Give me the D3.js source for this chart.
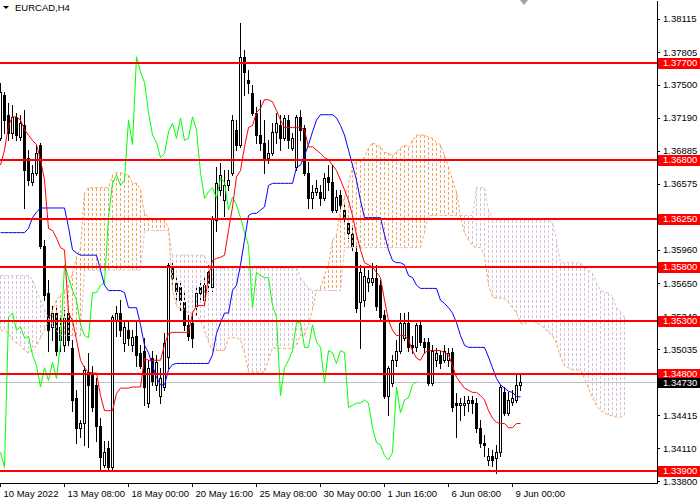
<!DOCTYPE html>
<html>
<head>
<meta charset="utf-8">
<script src="https://cdn.jsdelivr.net/npm/d3@7"></script>
<style>
  body { margin: 0; background: #fff; }
  text { font-family: "Liberation Sans", Arial, sans-serif; font-size: 9.5px; }
</style>
</head>
<body>
<div id="chart"></div>
<script>
// EURCAD H4 with Ichimoku

const symbol = "EURCAD,H4";

const opens = [1.3700,1.3740,1.3722,1.3705,1.3720,1.3701,1.3712,1.3682,1.3659,1.3668,
  1.3694,1.3600,1.3556,1.3524,1.3537,1.3512,1.3507,1.3537,1.3504,1.3458,
  1.3430,1.3434,1.3482,1.3481,1.3470,1.3432,1.3395,1.3411,1.3393,1.3530,
  1.3537,1.3509,1.3521,1.3507,1.3516,1.3500,1.3502,1.3453,1.3495,1.3470,
  1.3460,1.3468,1.3496,1.3580,1.3565,1.3561,1.3547,1.3526,1.3528,1.3544,
  1.3561,1.3549,1.3575,1.3561,1.3624,1.3652,1.3642,1.3656,1.3668,1.3708,
  1.3694,1.3776,1.3754,1.3742,1.3724,1.3703,1.3696,1.3682,1.3686,1.3706,
  1.3712,1.3700,1.3717,1.3691,1.3673,1.3720,1.3710,1.3668,1.3644,1.3650,
  1.3650,1.3644,1.3664,1.3659,1.3633,1.3647,1.3633,1.3621,1.3611,1.3594,
  1.3547,1.3549,1.3566,1.3566,1.3570,1.3563,1.3535,1.3460,1.3472,1.3493,
  1.3502,1.3514,1.3528,1.3507,1.3505,1.3526,1.3510,1.3510,1.3472,1.3493,
  1.3498,1.3493,1.3493,1.3501,1.3453,1.3451,1.3451,1.3453,1.3456,1.3453,
  1.3430,1.3416,1.3400,1.3404,1.3402,1.3407,1.3463,1.3444,1.3454,1.3456,
  1.3470];
const highs = [1.3752,1.3743,1.3733,1.3731,1.3724,1.3722,1.3726,1.3689,1.3675,1.3694,
  1.3696,1.3605,1.3568,1.3544,1.3544,1.3535,1.3540,1.3544,1.3512,1.3465,
  1.3437,1.3488,1.3500,1.3488,1.3476,1.3439,1.3418,1.3418,1.3535,1.3544,
  1.3549,1.3530,1.3530,1.3521,1.3530,1.3507,1.3514,1.3493,1.3502,1.3498,
  1.3486,1.3518,1.3584,1.3584,1.3572,1.3568,1.3558,1.3535,1.3540,1.3563,
  1.3568,1.3570,1.3582,1.3628,1.3673,1.3677,1.3670,1.3670,1.3722,1.3717,
  1.3808,1.3782,1.3764,1.3750,1.3729,1.3736,1.3717,1.3698,1.3714,1.3724,
  1.3722,1.3722,1.3722,1.3705,1.3722,1.3726,1.3712,1.3678,1.3656,1.3661,
  1.3656,1.3668,1.3675,1.3675,1.3652,1.3652,1.3638,1.3626,1.3616,1.3600,
  1.3582,1.3580,1.3577,1.3584,1.3582,1.3568,1.3540,1.3488,1.3498,1.3512,
  1.3537,1.3537,1.3538,1.3516,1.3528,1.3530,1.3514,1.3514,1.3507,1.3504,
  1.3502,1.3507,1.3504,1.3504,1.3462,1.3458,1.3460,1.3460,1.3460,1.3458,
  1.3437,1.3423,1.3411,1.3409,1.3414,1.3470,1.3468,1.3463,1.3465,1.3479,
  1.3479];
const lows = [1.3698,1.3705,1.3698,1.3700,1.3698,1.3698,1.3635,1.3656,1.3656,1.3666,
  1.3598,1.3549,1.3502,1.3512,1.3498,1.3502,1.3502,1.3507,1.3446,1.3416,
  1.3421,1.3414,1.3412,1.3446,1.3418,1.3392,1.3393,1.3390,1.3390,1.3516,
  1.3516,1.3502,1.3507,1.3502,1.3488,1.3486,1.3451,1.3449,1.3470,1.3465,
  1.3453,1.3465,1.3486,1.3561,1.3549,1.3540,1.3521,1.3512,1.3505,1.3535,
  1.3549,1.3544,1.3558,1.3558,1.3614,1.3647,1.3628,1.3652,1.3666,1.3689,
  1.3692,1.3740,1.3742,1.3722,1.3696,1.3689,1.3668,1.3677,1.3684,1.3696,
  1.3689,1.3698,1.3691,1.3689,1.3670,1.3698,1.3666,1.3635,1.3635,1.3647,
  1.3638,1.3642,1.3652,1.3631,1.3631,1.3633,1.3622,1.3607,1.3596,1.3538,
  1.3504,1.3544,1.3558,1.3563,1.3540,1.3530,1.3458,1.3442,1.3469,1.3488,
  1.3500,1.3512,1.3502,1.3500,1.3502,1.3507,1.3500,1.3470,1.3470,1.3488,
  1.3486,1.3491,1.3488,1.3446,1.3421,1.3437,1.3442,1.3446,1.3444,1.3426,
  1.3412,1.3404,1.3395,1.3394,1.3388,1.3404,1.3442,1.3442,1.3451,1.3454,
  1.3465];
const closes = [1.3743,1.3717,1.3705,1.3720,1.3703,1.3714,1.3670,1.3661,1.3668,1.3686,
  1.3600,1.3554,1.3521,1.3537,1.3502,1.3524,1.3532,1.3512,1.3456,1.3430,
  1.3434,1.3484,1.3470,1.3449,1.3432,1.3403,1.3407,1.3393,1.3533,1.3537,
  1.3521,1.3524,1.3514,1.3515,1.3498,1.3488,1.3468,1.3486,1.3474,1.3491,
  1.3476,1.3509,1.3582,1.3570,1.3558,1.3549,1.3526,1.3516,1.3514,1.3556,
  1.3556,1.3563,1.3565,1.3626,1.3658,1.3666,1.3656,1.3661,1.3717,1.3694,
  1.3776,1.3762,1.3752,1.3724,1.3703,1.3696,1.3682,1.3686,1.3706,1.3714,
  1.3700,1.3719,1.3698,1.3700,1.3720,1.3708,1.3668,1.3644,1.3650,1.3654,
  1.3644,1.3663,1.3659,1.3633,1.3645,1.3638,1.3626,1.3612,1.3600,1.3542,
  1.3575,1.3572,1.3570,1.3570,1.3544,1.3533,1.3460,1.3486,1.3493,1.3502,
  1.3528,1.3528,1.3505,1.3505,1.3526,1.3510,1.3505,1.3472,1.3502,1.3500,
  1.3490,1.3502,1.3500,1.3449,1.3451,1.3453,1.3453,1.3456,1.3453,1.3430,
  1.3416,1.3414,1.3404,1.3400,1.3407,1.3468,1.3444,1.3456,1.3458,1.3470,
  1.3473];

const tenkan = [1.3675,1.3689,1.3712,1.3720,1.3720,1.3717,1.3708,1.3703,1.3698,1.3694,
  1.3680,1.3661,1.3616,1.3614,1.3607,1.3598,1.3596,1.3537,1.3530,1.3512,
  1.3493,1.3486,1.3482,1.3481,1.3481,1.3460,1.3446,1.3446,1.3446,1.3462,
  1.3467,1.3467,1.3467,1.3468,1.3468,1.3468,1.3495,1.3493,1.3493,1.3493,
  1.3493,1.3507,1.3518,1.3519,1.3519,1.3519,1.3519,1.3519,1.3537,1.3544,
  1.3544,1.3544,1.3572,1.3586,1.3588,1.3589,1.3591,1.3614,1.3636,1.3664,
  1.3670,1.3692,1.3710,1.3712,1.3724,1.3728,1.3736,1.3736,1.3734,1.3726,
  1.3717,1.3710,1.3710,1.3710,1.3710,1.3710,1.3708,1.3692,1.3692,1.3689,
  1.3686,1.3682,1.3680,1.3675,1.3670,1.3661,1.3652,1.3642,1.3628,1.3610,
  1.3596,1.3584,1.3582,1.3580,1.3575,1.3570,1.3549,1.3530,1.3521,1.3516,
  1.3516,1.3516,1.3512,1.3502,1.3495,1.3493,1.3500,1.3502,1.3502,1.3502,
  1.3502,1.3500,1.3498,1.3488,1.3477,1.3472,1.3467,1.3465,1.3463,1.3463,
  1.3460,1.3456,1.3446,1.3439,1.3435,1.3434,1.3434,1.3430,1.3430,1.3434,
  1.3434];
const kijun = [1.3612,1.3612,1.3612,1.3612,1.3612,1.3612,1.3612,1.3616,1.3626,1.3631,
  1.3635,1.3635,1.3635,1.3635,1.3635,1.3635,1.3635,1.3617,1.3596,1.3593,
  1.3591,1.3591,1.3591,1.3591,1.3591,1.3577,1.3563,1.3558,1.3558,1.3558,
  1.3558,1.3556,1.3542,1.3542,1.3542,1.3526,1.3507,1.3500,1.3488,1.3477,
  1.3470,1.3470,1.3484,1.3489,1.3490,1.3490,1.3490,1.3490,1.3490,1.3490,
  1.3490,1.3490,1.3490,1.3498,1.3518,1.3528,1.3537,1.3537,1.3558,1.3563,
  1.3582,1.3605,1.3628,1.3630,1.3630,1.3633,1.3636,1.3656,1.3658,1.3658,
  1.3658,1.3658,1.3658,1.3658,1.3673,1.3675,1.3684,1.3694,1.3706,1.3717,
  1.3722,1.3722,1.3722,1.3722,1.3719,1.3712,1.3703,1.3689,1.3675,1.3661,
  1.3642,1.3626,1.3626,1.3626,1.3626,1.3626,1.3610,1.3596,1.3586,1.3584,
  1.3584,1.3582,1.3572,1.3570,1.3563,1.3560,1.3560,1.3560,1.3560,1.3560,
  1.3549,1.3546,1.3542,1.3537,1.3528,1.3516,1.3507,1.3505,1.3505,1.3505,
  1.3505,1.3505,1.3496,1.3486,1.3476,1.3470,1.3467,1.3464,1.3463,1.3459,
  1.3459];
// senkou spans run 26 bars past the last candle
const spanA = [1.3521,1.3521,1.3518,1.3512,1.3509,1.3507,1.3502,1.3500,1.3502,1.3507,
  1.3514,1.3521,1.3530,1.3540,1.3549,1.3554,1.3558,1.3563,1.3574,1.3589,
  1.3598,1.3649,1.3654,1.3654,1.3654,1.3654,1.3654,1.3654,1.3666,1.3668,
  1.3668,1.3666,1.3666,1.3658,1.3658,1.3652,1.3630,1.3626,1.3624,1.3624,
  1.3624,1.3624,1.3616,1.3558,1.3544,1.3540,1.3540,1.3537,1.3537,1.3535,
  1.3530,1.3521,1.3510,1.3502,1.3502,1.3502,1.3502,1.3514,1.3514,1.3514,
  1.3512,1.3500,1.3482,1.3482,1.3482,1.3482,1.3482,1.3493,1.3505,1.3504,
  1.3504,1.3504,1.3504,1.3504,1.3507,1.3516,1.3516,1.3526,1.3540,1.3558,
  1.3561,1.3572,1.3582,1.3605,1.3610,1.3633,1.3645,1.3656,1.3675,1.3678,
  1.3680,1.3682,1.3691,1.3696,1.3694,1.3692,1.3687,1.3686,1.3684,1.3687,
  1.3691,1.3694,1.3691,1.3698,1.3703,1.3703,1.3703,1.3701,1.3700,1.3696,
  1.3694,1.3684,1.3673,1.3661,1.3650,1.3626,1.3612,1.3605,1.3600,1.3598,
  1.3598,1.3591,1.3563,1.3552,1.3551,1.3551,1.3550,1.3547,1.3542,1.3537,
  1.3528,1.3526,1.3530,1.3530,1.3528,1.3526,1.3523,1.3519,1.3516,1.3509,
  1.3496,1.3488,1.3486,1.3484,1.3484,1.3484,1.3476,1.3467,1.3458,1.3451,
  1.3446,1.3444,1.3442,1.3441,1.3440,1.3440,1.3442];
const spanB = [1.3572,1.3572,1.3572,1.3572,1.3572,1.3572,1.3572,1.3572,1.3568,1.3558,
  1.3549,1.3540,1.3532,1.3526,1.3521,1.3516,1.3516,1.3516,1.3516,1.3516,
  1.3516,1.3577,1.3577,1.3577,1.3577,1.3577,1.3577,1.3577,1.3577,1.3577,
  1.3577,1.3577,1.3577,1.3577,1.3577,1.3577,1.3614,1.3614,1.3614,1.3614,
  1.3614,1.3614,1.3614,1.3591,1.3591,1.3591,1.3591,1.3591,1.3591,1.3591,
  1.3591,1.3591,1.3579,1.3579,1.3579,1.3579,1.3579,1.3579,1.3579,1.3579,
  1.3579,1.3579,1.3579,1.3579,1.3579,1.3579,1.3579,1.3579,1.3579,1.3579,
  1.3579,1.3579,1.3579,1.3579,1.3579,1.3570,1.3565,1.3560,1.3558,1.3558,
  1.3558,1.3558,1.3558,1.3558,1.3558,1.3558,1.3598,1.3598,1.3598,1.3598,
  1.3598,1.3598,1.3598,1.3598,1.3598,1.3598,1.3598,1.3598,1.3598,1.3598,
  1.3598,1.3598,1.3598,1.3598,1.3598,1.3598,1.3612,1.3628,1.3628,1.3628,
  1.3628,1.3628,1.3628,1.3628,1.3628,1.3628,1.3628,1.3628,1.3628,1.3654,
  1.3654,1.3654,1.3633,1.3624,1.3624,1.3624,1.3624,1.3624,1.3624,1.3624,
  1.3624,1.3624,1.3624,1.3624,1.3624,1.3624,1.3624,1.3624,1.3621,1.3605,
  1.3584,1.3584,1.3584,1.3584,1.3584,1.3584,1.3579,1.3577,1.3574,1.3565,
  1.3558,1.3556,1.3556,1.3552,1.3542,1.3538,1.3533];
const chikouShift = 26;

const levels = [1.3770, 1.3680, 1.3625, 1.3580, 1.3530, 1.3480, 1.3390];
const bid = 1.3473;

// scale labels that the price tags do not cover
const priceTicks = [1.38115, 1.37805, 1.37500, 1.37190, 1.36885, 1.36575, 1.35960,
  1.35650, 1.35340, 1.35035, 1.34415, 1.34110, 1.33800];
const timeTicks = [0, 16, 32, 48, 64, 80, 96, 112, 128];
const timeLabels = ["10 May 2022", "13 May 08:00", "18 May 00:00", "20 May 16:00", "25 May 08:00",
  "30 May 00:00", "1 Jun 16:00", "6 Jun 08:00", "9 Jun 00:00"];

const width = 700, height = 500;
const plotW = 657, plotH = 483;
const barStep = 4;

const x = d3.scaleLinear().domain([0, plotW / barStep]).range([0, plotW]);
const y = d3.scaleLinear().domain([1.33785, 1.38290]).range([plotH, 0]);
const px = i => Math.round(x(i));

const svg = d3.select("#chart")
  .append("svg")
    .attr("width", width)
    .attr("height", height);

svg.append("clipPath").attr("id", "plot")
  .append("rect").attr("width", plotW).attr("height", plotH);

const g = svg.append("g").attr("clip-path", "url(#plot)");

// bid line
g.append("line")
  .attr("x1", 0).attr("x2", plotW)
  .attr("y1", Math.round(y(bid)) + 0.5).attr("y2", Math.round(y(bid)) + 0.5)
  .attr("stroke", "#c0c0c0")
  .attr("shape-rendering", "crispEdges");

// candles
const bars = opens.map((o, i) => ({i, o, h: highs[i], l: lows[i], c: closes[i]}));

g.selectAll(".wick")
  .data(bars)
  .join("line")
    .attr("class", "wick")
    .attr("x1", d => px(d.i) + 0.5)
    .attr("x2", d => px(d.i) + 0.5)
    .attr("y1", d => Math.round(y(d.h)))
    .attr("y2", d => Math.round(y(d.l)) + 1)
    .attr("stroke", "#000")
    .attr("shape-rendering", "crispEdges");

g.selectAll(".body")
  .data(bars)
  .join("rect")
    .attr("class", "body")
    .attr("x", d => px(d.i) - 0.5)
    .attr("width", 2)
    .attr("y", d => Math.round(y(Math.max(d.o, d.c))) + 0.5)
    .attr("height", d => Math.max(0, Math.round(y(Math.min(d.o, d.c))) - Math.round(y(Math.max(d.o, d.c)))))
    .attr("fill", d => d.c >= d.o ? "#fff" : "#000")
    .attr("stroke", "#000")
    .attr("shape-rendering", "crispEdges");

// kumo: dotted hatch between the spans
const kumo = spanA.map((a, i) => ({i, a, b: spanB[i]}));

g.selectAll(".kumo")
  .data(kumo)
  .join("line")
    .attr("class", "kumo")
    .attr("x1", d => px(d.i) + 0.5)
    .attr("x2", d => px(d.i) + 0.5)
    .attr("y1", d => Math.round(y(Math.max(d.a, d.b))))
    .attr("y2", d => Math.round(y(Math.min(d.a, d.b))))
    .attr("stroke", d => d.a >= d.b ? "#f4a460" : "#d8bfd8")
    .attr("stroke-dasharray", "3,2")
    .attr("shape-rendering", "crispEdges");

const line = d3.line()
  .x(d => px(d.i) + 0.5)
  .y(d => y(d.v));

g.append("path")
  .datum(spanB.map((v, i) => ({i, v})))
  .attr("d", line)
  .attr("fill", "none")
  .attr("stroke", "#d8bfd8")
  .attr("stroke-dasharray", "3,2");

g.append("path")
  .datum(spanA.map((v, i) => ({i, v})))
  .attr("d", line)
  .attr("fill", "none")
  .attr("stroke", "#f4a460")
  .attr("stroke-dasharray", "3,2");

// chikou span is the close drawn 26 bars back
g.append("path")
  .datum(closes.slice(chikouShift).map((v, i) => ({i, v})))
  .attr("d", line)
  .attr("fill", "none")
  .attr("stroke", "#00ff00");

g.append("path")
  .datum(kijun.map((v, i) => ({i, v})))
  .attr("d", line)
  .attr("fill", "none")
  .attr("stroke", "#0000ff");

g.append("path")
  .datum(tenkan.map((v, i) => ({i, v})))
  .attr("d", line)
  .attr("fill", "none")
  .attr("stroke", "#ff0000");

// horizontal levels
g.selectAll(".level")
  .data(levels)
  .join("line")
    .attr("class", "level")
    .attr("x1", 0).attr("x2", plotW)
    .attr("y1", d => Math.round(y(d)))
    .attr("y2", d => Math.round(y(d)))
    .attr("stroke", "#ff0000")
    .attr("stroke-width", 2)
    .attr("shape-rendering", "crispEdges");

// axes
const yAxis = svg.append("g")
  .attr("transform", `translate(${plotW},0)`)
  .call(d3.axisRight(y)
    .tickValues(priceTicks)
    .tickSize(3)
    .tickSizeOuter(0)
    .tickFormat(d3.format(".5f")));

const xAxis = svg.append("g")
  .attr("transform", `translate(0,${plotH})`)
  .call(d3.axisBottom(x)
    .tickValues(timeTicks)
    .tickSize(4)
    .tickSizeOuter(0)
    .tickFormat((d, i) => timeLabels[i]));

svg.selectAll(".domain, .tick line").attr("stroke", "#000").attr("shape-rendering", "crispEdges");
svg.selectAll(".tick text").attr("fill", "#000");
yAxis.attr("font-family", null).attr("font-size", null);
xAxis.attr("font-family", null).attr("font-size", null);
xAxis.selectAll(".tick text").attr("text-anchor", "start").attr("x", 3);

// level price tags
const tags = svg.append("g");
levels.forEach(v => {
  const cy = Math.round(y(v));
  tags.append("rect")
    .attr("x", plotW + 1).attr("y", cy - 5)
    .attr("width", width - plotW - 1).attr("height", 11)
    .attr("fill", "#ff0000");
  tags.append("text")
    .attr("x", plotW + 6).attr("y", cy)
    .attr("dy", "0.36em")
    .attr("fill", "#fff")
    .text(d3.format(".5f")(v));
});
const by = Math.round(y(bid)) + 1;
tags.append("rect")
  .attr("x", plotW + 1).attr("y", by - 5)
  .attr("width", width - plotW - 1).attr("height", 10)
  .attr("fill", "#000");
tags.append("text")
  .attr("x", plotW + 6).attr("y", by)
  .attr("dy", "0.36em")
  .attr("fill", "#fff")
  .text(d3.format(".5f")(bid));

// symbol caption and shift marker
svg.append("path")
  .attr("d", "M3,6L9,6L6,9Z")
  .attr("fill", "#000");
svg.append("text")
  .attr("x", 15).attr("y", 11)
  .attr("fill", "#000")
  .text(symbol);

const sx = px(closes.length);
svg.append("path")
  .attr("d", `M${sx - 4},0L${sx + 4},0L${sx},5Z`)
  .attr("fill", "#a0a0a0");
</script>
</body>
</html>
